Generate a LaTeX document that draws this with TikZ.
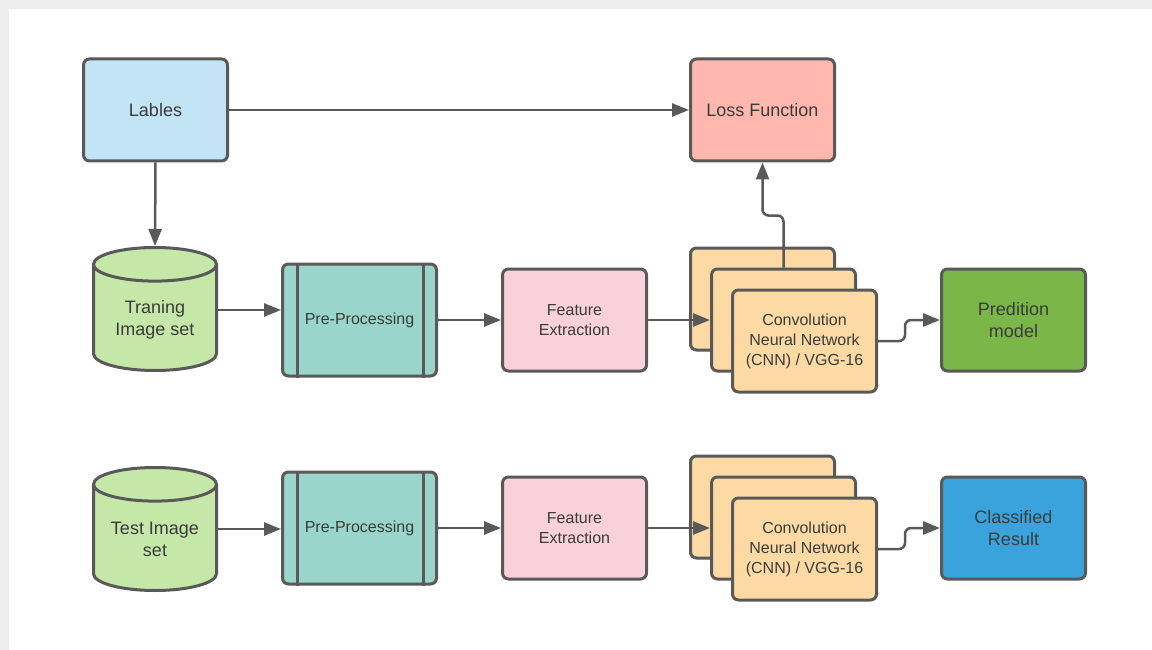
\documentclass[tikz,border=0pt]{standalone}
\usepackage{fontspec}
\setmainfont{Liberation Sans}
\usetikzlibrary{arrows.meta,positioning,shapes.geometric}

\definecolor{linegray}{HTML}{595959}
\definecolor{txtgray}{HTML}{3B3B3B}
\definecolor{lblblue}{HTML}{C3E4F5}
\definecolor{losspink}{HTML}{FFB7AE}
\definecolor{dbgreen}{HTML}{C5E8A9}
\definecolor{preteal}{HTML}{99D5CA}
\definecolor{featpink}{HTML}{F8D1DD}
\definecolor{cnnorange}{HTML}{FDDAA4}
\definecolor{predgreen}{HTML}{7AB648}
\definecolor{resblue}{HTML}{3AA3DB}

\tikzset{
  box/.style={draw=linegray, line width=3pt, rounded corners=6pt,
    minimum width=144pt, minimum height=102pt, align=center,
    text=txtgray, font=\fontsize{18}{22}\selectfont},
  small/.style={font=\fontsize{16}{20}\selectfont},
  procbox/.style={box, small, minimum width=154pt, minimum height=112pt, fill=preteal},
  db/.style={cylinder, shape border rotate=90, draw=linegray, line width=3pt,
    fill=dbgreen, inner sep=4pt, minimum width=123pt, minimum height=123pt,
    aspect=4.2, anchor=south},
  dbtext/.style={align=center, text=txtgray, anchor=center, yshift=52.5pt,
    font=\fontsize{18}{22}\selectfont},
  link/.style={draw=linegray, line width=2.5pt, -{Triangle[length=17pt,width=13pt]}},
  bar/.style={draw=linegray, line width=3pt}
}

\begin{document}
\begin{tikzpicture}[x=1pt, y=-1pt]
  \fill[black!7] (0,0) rectangle (1152,650);
  \fill[white] (9,9) rectangle (1152,650);
  \useasboundingbox (0,0) rectangle (1152,650);

  % training row
  \node [box, fill=lblblue] (lbl) at (155.5,110) {Lables};
  \node [box, fill=losspink] (loss) at (762.5,110) {Loss Function};
  \node [db, label={[dbtext]south:Traning\\Image set}] (train) at (155,372) {};
  \coordinate (trainOut) at ([yshift=62pt]train.south);
  \node [procbox] (pre1) at (359.5,320) {Pre-Processing};
  \node [box, small, fill=featpink] (feat1) at (574.5,320) {Feature\\Extraction};
  \node [box, fill=cnnorange] (cnnT1) at (762.5,299) {};
  \node [box, fill=cnnorange] (cnnT2) at ([shift={(21,21)}]cnnT1.center) {};
  \node [box, small, fill=cnnorange] (cnnT3) at ([shift={(21,21)}]cnnT2.center) {Convolution\\Neural Network\\(CNN) / VGG-16};
  \node [box, fill=predgreen] (pred) at (1013.5,320) {Predition\\model};

  % test row
  \node [db, label={[dbtext]south:Test Image\\set}] (test) at (155,592) {};
  \coordinate (testOut) at ([yshift=63pt]test.south);
  \node [procbox] (pre2) at (359.5,528) {Pre-Processing};
  \node [box, small, fill=featpink] (feat2) at (574.5,528) {Feature\\Extraction};
  \node [box, fill=cnnorange] (cnnB1) at (762.5,507) {};
  \node [box, fill=cnnorange] (cnnB2) at ([shift={(21,21)}]cnnB1.center) {};
  \node [box, small, fill=cnnorange] (cnnB3) at ([shift={(21,21)}]cnnB2.center) {Convolution\\Neural Network\\(CNN) / VGG-16};
  \node [box, fill=resblue] (cls) at (1013.5,528) {Classified\\Result};

  % side bars of the process boxes
  \foreach \p in {pre1,pre2} {
    \draw[bar] ([xshift=16pt]\p.north west) -- ([xshift=16pt]\p.south west);
    \draw[bar] ([xshift=-15pt]\p.north east) -- ([xshift=-15pt]\p.south east);
  }

  \path[link] (lbl.south) -- (train.north);
  \path[link] (lbl) -- (loss);
  \path[link] (trainOut -| train.east) -- (trainOut -| pre1.west);
  \path[link] (pre1) -- (feat1);
  \path[link] (feat1) -- (cnnT2.west);
  \path[link, rounded corners=6pt] (cnnT3.east) -- ++(27,0) |- (pred.west);
  \path[link, rounded corners=6pt] (cnnT2.north) -- ++(0,-52) -| (loss.south);

  \path[link] (testOut -| test.east) -- (testOut -| pre2.west);
  \path[link] (pre2) -- (feat2);
  \path[link] (feat2) -- (cnnB2.west);
  \path[link, rounded corners=6pt] (cnnB3.east) -- ++(27,0) |- (cls.west);
\end{tikzpicture}
\end{document}
